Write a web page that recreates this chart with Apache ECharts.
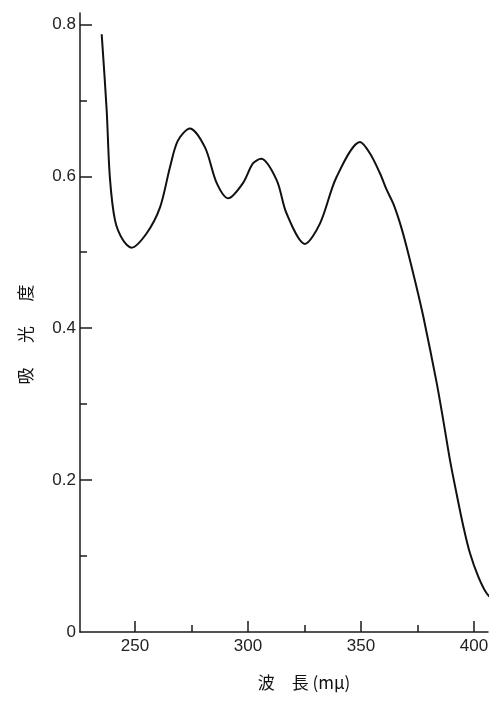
<!DOCTYPE html>
<html>
<head>
<meta charset="utf-8">
<script src="https://cdn.jsdelivr.net/npm/echarts@6/dist/echarts.min.js"></script>
<style>html,body{margin:0;padding:0;background:#fff;}#c{width:497px;height:704px;}</style>
</head>
<body>
<div id="c"></div>
<script>
// wavelength (mμ)
const wavelength = [235.3, 237.5, 238.9, 241.2, 244.7, 248.5, 255.2, 261.1, 265.5, 269.0, 274.3, 281.0, 286.2, 291.3, 297.8, 302.2, 305.8, 312.7, 317.1, 325.2, 331.9, 339.2, 349.6, 354.0, 358.4, 361.4, 364.3, 367.3, 370.2, 374.6, 377.6, 383.5, 386.4, 389.4, 392.3, 395.3, 398.2, 401.9, 405.6, 410.0];
// absorbance
const absorbance = [0.787, 0.687, 0.599, 0.542, 0.516, 0.506, 0.525, 0.559, 0.612, 0.647, 0.663, 0.638, 0.591, 0.571, 0.591, 0.617, 0.623, 0.595, 0.551, 0.511, 0.538, 0.599, 0.645, 0.630, 0.604, 0.582, 0.564, 0.538, 0.507, 0.454, 0.415, 0.328, 0.279, 0.226, 0.182, 0.139, 0.104, 0.073, 0.051, 0.038];
const xMajorTicks = [250, 300, 350, 400];
const xMinorTicks = [275, 325, 375];
const yMajorTicks = [0, 0.2, 0.4, 0.6, 0.8];
const yMinorTicks = [0.1, 0.3, 0.5, 0.7];

const X_MIN = 225.7, X_MAX = 406.2, Y_MIN = 0, Y_MAX = 0.815;
const chart = echarts.init(document.getElementById('c'), null, {renderer: 'canvas'});
const gridBox = {left: 80, right: 9, top: 13, bottom: 72};
const lbl = {fontFamily: 'Liberation Sans', fontSize: 17, color: '#222'};
const lineStyle = {color: '#1a1a1a', width: 1.5};
chart.setOption({
  backgroundColor: '#ffffff',
  animation: false,
  grid: [Object.assign({}, gridBox), Object.assign({}, gridBox)],
  xAxis: [{
    type: 'value', gridIndex: 0, min: X_MIN, max: X_MAX,
    axisLine: {show: true, lineStyle: lineStyle},
    axisTick: {show: true, inside: true, length: 11, lineStyle: lineStyle, customValues: xMajorTicks},
    axisLabel: Object.assign({margin: 6, customValues: xMajorTicks}, lbl),
    splitLine: {show: false},
    name: '波　長 (mμ)', nameLocation: 'middle', nameGap: 42,
    nameTextStyle: {fontFamily: 'Noto Sans CJK JP', fontSize: 17, color: '#111', padding: [0, 0, 0, 40]}
  }, {
    type: 'value', gridIndex: 1, min: X_MIN, max: X_MAX,
    axisLine: {show: false},
    axisTick: {show: true, inside: true, length: 7, lineStyle: lineStyle, customValues: xMinorTicks},
    axisLabel: {show: false},
    splitLine: {show: false}
  }],
  yAxis: [{
    type: 'value', gridIndex: 0, min: Y_MIN, max: Y_MAX,
    axisLine: {show: true, lineStyle: lineStyle},
    axisTick: {show: true, inside: true, length: 12, lineStyle: lineStyle, customValues: yMajorTicks.filter(v => v > 0)},
    axisLabel: Object.assign({margin: 4, customValues: yMajorTicks, formatter: v => (v === 0 ? '0' : v.toFixed(1))}, lbl),
    splitLine: {show: false},
    name: '吸　  光　  度', nameLocation: 'middle', nameGap: 46,
    nameTextStyle: {fontFamily: 'Noto Sans CJK JP', fontSize: 17, color: '#111', padding: [0, 24, 0, 0]}
  }, {
    type: 'value', gridIndex: 1, min: Y_MIN, max: Y_MAX,
    axisLine: {show: false},
    axisTick: {show: true, inside: true, length: 7, lineStyle: lineStyle, customValues: yMinorTicks},
    axisLabel: {show: false},
    splitLine: {show: false}
  }],
  series: [{
    type: 'line', xAxisIndex: 0, yAxisIndex: 0,
    data: wavelength.map((w, i) => [w, absorbance[i]]),
    smooth: 0.3, showSymbol: false, clip: false,
    lineStyle: {color: '#111', width: 2}
  }]
});
</script>
</body>
</html>
